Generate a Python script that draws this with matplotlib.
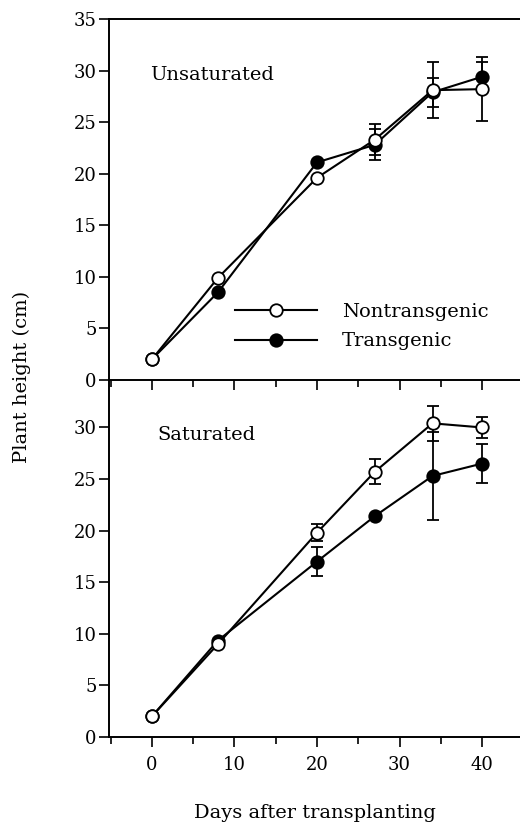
import matplotlib
matplotlib.use("Agg")
import matplotlib.pyplot as plt
from matplotlib.ticker import MultipleLocator
from matplotlib.lines import Line2D

days = [0, 8, 20, 27, 34, 40]

# Unsaturated
unsat_non = [2.0, 9.9, 19.6, 23.3, 28.1, 28.2]
unsat_non_err = [0, 0, 0, 1.5, 2.7, 3.1]
unsat_tr = [2.0, 8.5, 21.1, 22.8, 27.9, 29.4]
unsat_tr_err = [0, 0, 0, 1.5, 1.4, 1.4]

# Saturated
sat_non = [2.0, 9.0, 19.8, 25.7, 30.4, 30.0]
sat_non_err = [0, 0, 0.8, 1.2, 1.7, 1.0]
sat_tr = [2.0, 9.35, 17.0, 21.4, 25.3, 26.5]
sat_tr_err = [0, 0, 1.4, 0, 4.3, 1.9]

series_labels = ["Nontransgenic", "Transgenic"]

FONT = ["DejaVu Serif"]
plt.rcParams["font.family"] = FONT
FS = 14
TFS = 13

fig = plt.figure(figsize=(5.2, 8.27), dpi=100)
W, H = 520, 827
left = 109 / W
right = 1.0
ax2 = fig.add_axes([left, 1 - 737 / H, right - left, (737 - 380) / H])
ax1 = fig.add_axes([left, 1 - 380 / H, right - left, (380 - 19) / H])
ax1.patch.set_visible(False)

lw = 1.5
ms = 9
cap = 4.5
mew = 1.3


def draw(ax, non, non_err, tr, tr_err):
    ax.errorbar(days, tr, yerr=tr_err, color="black", lw=lw, marker="o", ms=ms,
                mfc="black", mec="black", mew=mew, capsize=cap, elinewidth=1.3,
                capthick=1.3, zorder=3)
    ax.errorbar(days, non, yerr=non_err, color="black", lw=lw, marker="o", ms=ms,
                mfc="white", mec="black", mew=mew, capsize=cap, elinewidth=1.3,
                capthick=1.3, zorder=4)
    ax.set_xlim(-5.2, 44.6)
    ax.spines["right"].set_visible(False)
    for s in ax.spines.values():
        s.set_linewidth(1.4)
    ax.xaxis.set_major_locator(MultipleLocator(10))
    ax.xaxis.set_minor_locator(MultipleLocator(5))
    ax.yaxis.set_major_locator(MultipleLocator(5))
    ax.tick_params(axis="both", which="major", length=7, width=1.2, labelsize=TFS)
    ax.tick_params(axis="y", which="major", pad=2)
    ax.tick_params(axis="x", which="major", pad=7)
    ax.tick_params(axis="x", which="minor", length=5, width=1.2)


draw(ax1, unsat_non, unsat_non_err, unsat_tr, unsat_tr_err)
draw(ax2, sat_non, sat_non_err, sat_tr, sat_tr_err)

ax1.set_ylim(0, 35)
ax1.tick_params(axis="x", labelbottom=False)
ax2.set_ylim(0, 34.6)
ax2.spines["top"].set_visible(False)
ax2.set_yticks([0, 5, 10, 15, 20, 25, 30])

ax1.text(-0.2, 29.6, "Unsaturated", fontsize=FS, va="center", ha="left")
ax2.text(0.7, 29.3, "Saturated", fontsize=FS, va="center", ha="left")

handles = [
    Line2D([], [], color="black", lw=lw, marker="o", ms=ms, mfc="white", mec="black", mew=mew),
    Line2D([], [], color="black", lw=lw, marker="o", ms=ms, mfc="black", mec="black", mew=mew),
]
leg = ax1.legend(handles, series_labels, loc="center left", bbox_to_anchor=(0.307, 0.148),
                 frameon=False, fontsize=FS, handlelength=4.2, handletextpad=1.3,
                 labelspacing=0.6, borderpad=0, borderaxespad=0)

ax2.set_xlabel("Days after transplanting", fontsize=FS, labelpad=21)
fig.text(22 / W, 1 - 377 / H, "Plant height (cm)", rotation=90, fontsize=FS,
         va="center", ha="center")

fig.savefig("out.png", dpi=100)
